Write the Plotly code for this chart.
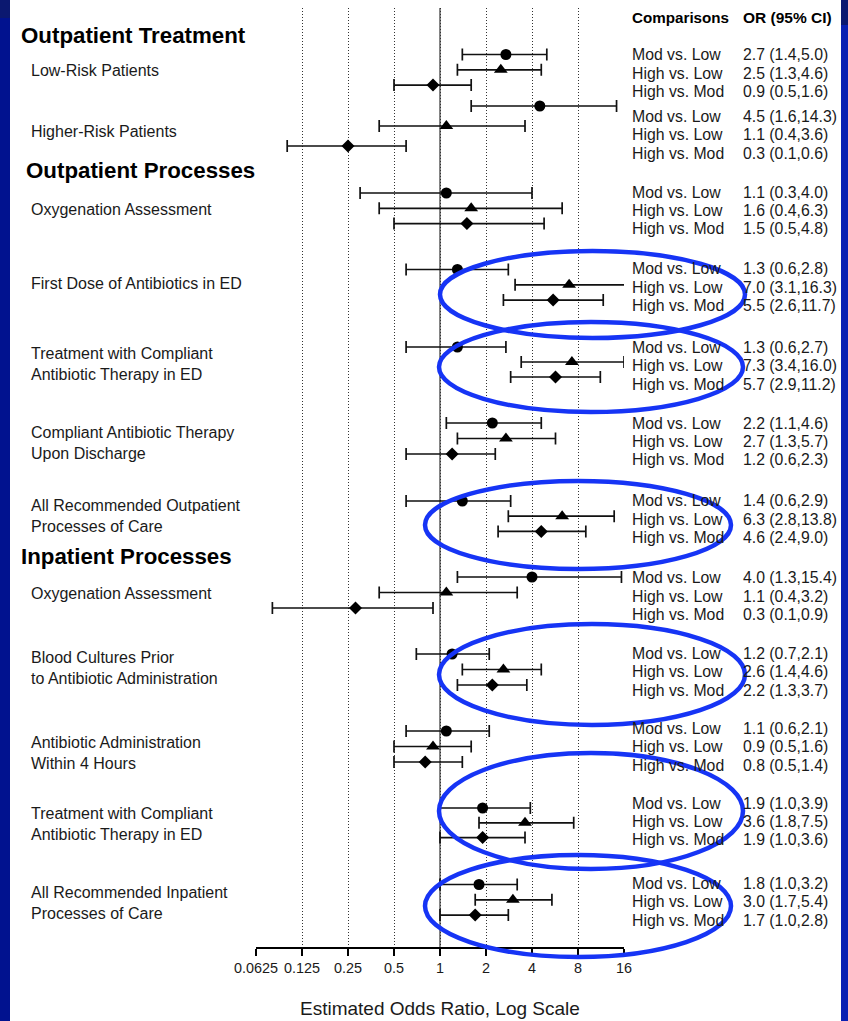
import math
import plotly.graph_objects as go

# ---------------- data ----------------
section_titles = ["Outpatient Treatment", "Outpatient Processes", "Inpatient Processes"]
group_labels = [
    "Low-Risk Patients",
    "Higher-Risk Patients",
    "Oxygenation Assessment",
    "First Dose of Antibiotics in ED",
    "Treatment with Compliant<br>Antibiotic Therapy in ED",
    "Compliant Antibiotic Therapy<br>Upon Discharge",
    "All Recommended Outpatient<br>Processes of Care",
    "Oxygenation Assessment",
    "Blood Cultures Prior<br>to Antibiotic Administration",
    "Antibiotic Administration<br>Within 4 Hours",
    "Treatment with Compliant<br>Antibiotic Therapy in ED",
    "All Recommended Inpatient<br>Processes of Care",
]
comparisons = ["Mod vs. Low", "High vs. Low", "High vs. Mod"]

mod_low_or = [2.7, 4.5, 1.1, 1.3, 1.3, 2.2, 1.4, 4.0, 1.2, 1.1, 1.9, 1.8]
mod_low_lo = [1.4, 1.6, 0.3, 0.6, 0.6, 1.1, 0.6, 1.3, 0.7, 0.6, 1.0, 1.0]
mod_low_hi = [5.0, 14.3, 4.0, 2.8, 2.7, 4.6, 2.9, 15.4, 2.1, 2.1, 3.9, 3.2]

high_low_or = [2.5, 1.1, 1.6, 7.0, 7.3, 2.7, 6.3, 1.1, 2.6, 0.9, 3.6, 3.0]
high_low_lo = [1.3, 0.4, 0.4, 3.1, 3.4, 1.3, 2.8, 0.4, 1.4, 0.5, 1.8, 1.7]
high_low_hi = [4.6, 3.6, 6.3, 16.3, 16.0, 5.7, 13.8, 3.2, 4.6, 1.6, 7.5, 5.4]

high_mod_or = [0.9, 0.25, 1.5, 5.5, 5.7, 1.2, 4.6, 0.28, 2.2, 0.8, 1.9, 1.7]
high_mod_lo = [0.5, 0.1, 0.5, 2.6, 2.9, 0.6, 2.4, 0.08, 1.3, 0.5, 1.0, 1.0]
high_mod_hi = [1.6, 0.6, 4.8, 11.7, 11.2, 2.3, 9.0, 0.9, 3.7, 1.4, 3.6, 2.8]

or_labels = [
    ["2.7 (1.4,5.0)", "2.5 (1.3,4.6)", "0.9 (0.5,1.6)"],
    ["4.5 (1.6,14.3)", "1.1 (0.4,3.6)", "0.3 (0.1,0.6)"],
    ["1.1 (0.3,4.0)", "1.6 (0.4,6.3)", "1.5 (0.5,4.8)"],
    ["1.3 (0.6,2.8)", "7.0 (3.1,16.3)", "5.5 (2.6,11.7)"],
    ["1.3 (0.6,2.7)", "7.3 (3.4,16.0)", "5.7 (2.9,11.2)"],
    ["2.2 (1.1,4.6)", "2.7 (1.3,5.7)", "1.2 (0.6,2.3)"],
    ["1.4 (0.6,2.9)", "6.3 (2.8,13.8)", "4.6 (2.4,9.0)"],
    ["4.0 (1.3,15.4)", "1.1 (0.4,3.2)", "0.3 (0.1,0.9)"],
    ["1.2 (0.7,2.1)", "2.6 (1.4,4.6)", "2.2 (1.3,3.7)"],
    ["1.1 (0.6,2.1)", "0.9 (0.5,1.6)", "0.8 (0.5,1.4)"],
    ["1.9 (1.0,3.9)", "3.6 (1.8,7.5)", "1.9 (1.0,3.6)"],
    ["1.8 (1.0,3.2)", "3.0 (1.7,5.4)", "1.7 (1.0,2.8)"],
]

tick_vals = [0.0625, 0.125, 0.25, 0.5, 1, 2, 4, 8, 16]
tick_text = ["0.0625", "0.125", "0.25", "0.5", "1", "2", "4", "8", "16"]
x_title = "Estimated Odds Ratio, Log Scale"
col_headers = ["Comparisons", "OR (95% CI)"]

# ---------------- layout helpers ----------------
FIG_W, FIG_H = 848, 1021
PL, PR, PT, PB = 256, 624, 8, 947


def px_x(px):
    return (px - PL) / (PR - PL)


def px_y(py):
    return (PB - py) / (PB - PT)


# vertical slots (layout units = rows measured from top)
BAR_TOP = [54.5, 106, 193, 269.5, 347, 423, 501, 577, 654, 731, 808, 884.5]
BAR_STEP = [15.3, 20, 15.3, 15.3, 15.0, 15.5, 15.2, 15.5, 15.5, 15.5, 14.8, 15.3]
TEXT_TOP = [55, 116.5, 192, 269, 347.5, 423, 500.7, 577.7, 653.5, 728.5, 803, 883.5]
TEXT_STEP = 18.4
LABEL_Y = [71, 131, 209, 283, 364, 442.5, 515.5, 593, 667.5, 752.5, 823.5, 902.5]
SECTION_POS = [(19, 35), (24, 170), (19, 557)]

TXT = "#1a1a1a"
FONT = "Liberation Sans, Arial, sans-serif"

fig = go.Figure()

series = [
    (mod_low_or, mod_low_lo, mod_low_hi, "circle", 11),
    (high_low_or, high_low_lo, high_low_hi, "triangle-up", 12),
    (high_mod_or, high_mod_lo, high_mod_hi, "diamond", 10),
]
for i, (orv, lo, hi, sym, size) in enumerate(series):
    ys = [BAR_TOP[g] + i * BAR_STEP[g] for g in range(len(orv))]
    fig.add_trace(go.Scatter(
        x=orv, y=ys, mode="markers", name=comparisons[i],
        marker=dict(symbol=sym, size=size, color="black"),
        error_x=dict(type="data", symmetric=False,
                     array=[h - o for h, o in zip(hi, orv)],
                     arrayminus=[o - l for o, l in zip(orv, lo)],
                     color="#111111", thickness=1.7, width=6),
        cliponaxis=False, showlegend=False, hoverinfo="skip",
    ))

annotations = []
# section titles
for title, (x, y) in zip(section_titles, SECTION_POS):
    annotations.append(dict(text="<b>%s</b>" % title, x=px_x(x), y=px_y(y),
                            xref="paper", yref="paper", xanchor="left", yanchor="middle",
                            showarrow=False, font=dict(family=FONT, size=22.3, color="black")))
# group labels
for lab, y in zip(group_labels, LABEL_Y):
    annotations.append(dict(text=lab, x=px_x(29), y=px_y(y), xref="paper", yref="paper",
                            xanchor="left", yanchor="middle", align="left", showarrow=False,
                            font=dict(family=FONT, size=16, color=TXT)))
# column headers
annotations.append(dict(text="<b>%s</b>" % col_headers[0], x=px_x(630), y=px_y(17), xref="paper",
                        yref="paper", xanchor="left", yanchor="middle", showarrow=False,
                        font=dict(family=FONT, size=15.2, color="black")))
annotations.append(dict(text="<b>%s</b>" % col_headers[1], x=px_x(741), y=px_y(17), xref="paper",
                        yref="paper", xanchor="left", yanchor="middle", showarrow=False,
                        font=dict(family=FONT, size=15.5, color="black")))
# comparison rows
for g in range(len(group_labels)):
    for i in range(3):
        y = TEXT_TOP[g] + i * TEXT_STEP
        annotations.append(dict(text=comparisons[i], x=px_x(630), y=px_y(y), xref="paper",
                                yref="paper", xanchor="left", yanchor="middle", showarrow=False,
                                font=dict(family=FONT, size=15.8, color=TXT)))
        annotations.append(dict(text=or_labels[g][i], x=px_x(741), y=px_y(y), xref="paper",
                                yref="paper", xanchor="left", yanchor="middle", showarrow=False,
                                font=dict(family=FONT, size=15.8, color=TXT)))
# axis title
annotations.append(dict(text=x_title, x=0.5, y=px_y(1008), xref="paper", yref="paper",
                        xanchor="center", yanchor="middle", showarrow=False,
                        font=dict(family=FONT, size=19, color=TXT)))

shapes = []
# reference line at OR = 1
shapes.append(dict(type="line", xref="x", yref="paper", x0=1, x1=1, y0=0, y1=1,
                   line=dict(color="#333333", width=1.2), layer="below"))
# highlight ellipses
ELLIPSES = [(440, 251, 745, 338), (439, 322, 743, 412), (425, 481, 731, 569),
            (439, 624, 745, 725), (439, 753, 743, 869), (425, 855, 731, 957)]
for x0, y0, x1, y1 in ELLIPSES:
    shapes.append(dict(type="circle", xref="paper", yref="paper",
                       x0=px_x(x0), x1=px_x(x1), y0=px_y(y1), y1=px_y(y0),
                       line=dict(color="rgb(22,52,245)", width=4.5), layer="above"))
# slide border
BORDERS = [(0, 0, 10, FIG_H, "#01128f"), (841, 0, FIG_W, FIG_H, "#0a1fb2"),
           (0, 0, 10, 18, "#0b1870"), (841, 0, FIG_W, 25, "#0b1870")]
for x0, y0, x1, y1, c in BORDERS:
    shapes.append(dict(type="rect", xref="paper", yref="paper",
                       x0=px_x(x0), x1=px_x(x1), y0=px_y(y1), y1=px_y(y0),
                       line=dict(width=0), fillcolor=c, layer="above"))

fig.update_layout(
    width=FIG_W, height=FIG_H,
    margin=dict(l=PL, r=FIG_W - PR, t=PT, b=FIG_H - PB, pad=0),
    paper_bgcolor="white", plot_bgcolor="white",
    annotations=annotations, shapes=shapes,
    xaxis=dict(type="log", range=[math.log10(tick_vals[0]), math.log10(tick_vals[-1])],
               tickmode="array", tickvals=tick_vals, ticktext=tick_text, tickangle=0,
               showgrid=True, gridcolor="#333333", gridwidth=1, griddash="1px,2px",
               showline=True, linecolor="black", linewidth=1.5,
               ticks="outside", ticklen=7, tickwidth=1.5, tickcolor="black",
               tickfont=dict(family=FONT, size=14.4, color=TXT),
               zeroline=False, fixedrange=True),
    yaxis=dict(range=[PB, PT], visible=False, showgrid=False, zeroline=False, fixedrange=True),
)

fig.write_html("out.html", config={"displayModeBar": False},
               post_script="document.body.style.margin='0';document.body.style.overflow='hidden';")
